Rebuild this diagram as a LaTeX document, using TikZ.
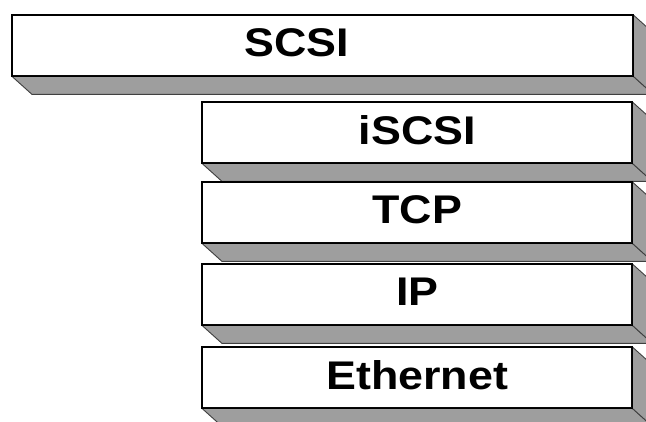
\documentclass[tikz,border=0pt]{standalone}
\usepackage{fontspec}
\usepackage{graphicx}
\setmainfont{Liberation Sans}
\usepackage{tikz}
\usepackage{xcolor}

\definecolor{facegray}{RGB}{158,158,158}

\tikzset{
	layer/.style={draw=black, line width=1.4pt, fill=white, rectangle, minimum height=60pt, inner sep=0pt, anchor=north west},
	depth/.style={fill=facegray, draw=black!75, line width=0.9pt, line join=round},
	layertext/.style={font=\fontsize{40}{40}\selectfont\bfseries}
}

\begin{document}
\begin{tikzpicture}[x=1pt,y=-1pt]
	\useasboundingbox (0,0) rectangle (646,421);
	\fill[white] (0,0) rectangle (646,421);

	% top layer, wider and offset text
	\node[layer, minimum width=620pt] (scsi) at (12,15) {};
	\node[layertext, yshift=3pt] (scsitext) at ([xshift=-26pt]scsi.center) {\scalebox{1.12}[1]{SCSI}};

	% stack under it
	\foreach \name/\txt/\top in {iscsi/iSCSI/102, tcp/TCP/182, ip/IP/264, ethernet/Ethernet/347}
	{
		\node[layer, minimum width=429pt] (\name) at (202,\top) {};
		\node[layertext, yshift=3pt] (\name text) at (\name.center) {\scalebox{1.12}[1]{\txt}};
	}

	% bottom and right faces
	\foreach \name in {scsi, iscsi, tcp, ip, ethernet}
	{
		\draw[depth] (\name.south west) -- (\name.south east) -- ([shift={(20,18)}]\name.south east) -- ([shift={(20,18)}]\name.south west) -- cycle;
		\draw[depth] (\name.north east) -- ([shift={(20,18)}]\name.north east) -- ([shift={(20,18)}]\name.south east) -- (\name.south east) -- cycle;
		\draw[line width=1.4pt] (\name.north west) rectangle (\name.south east);
	}
\end{tikzpicture}
\end{document}
